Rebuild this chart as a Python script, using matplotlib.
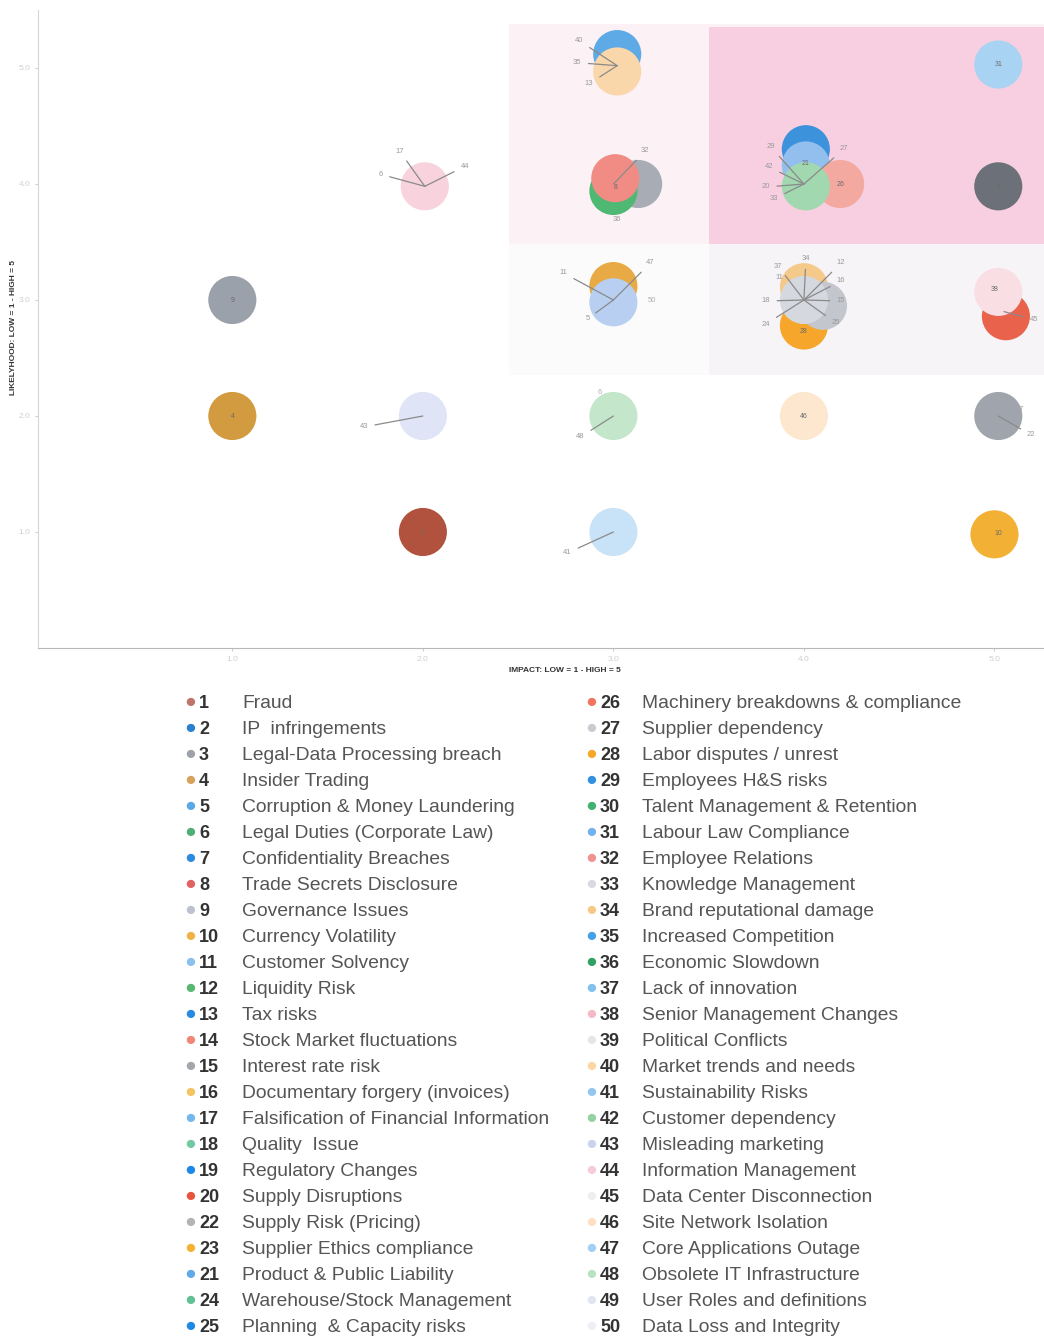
import matplotlib
matplotlib.use("Agg")
from matplotlib import pyplot as plt
from matplotlib.patches import Rectangle

plt.rcParams['font.family'] = ['Liberation Sans', 'DejaVu Sans']

# risk register
risk_ids = list(range(1, 51))
risk_names = [
    "Fraud", "IP  infringements", "Legal-Data Processing breach", "Insider Trading",
    "Corruption & Money Laundering", "Legal Duties (Corporate Law)", "Confidentiality Breaches",
    "Trade Secrets Disclosure", "Governance Issues", "Currency Volatility", "Customer Solvency",
    "Liquidity Risk", "Tax risks", "Stock Market fluctuations", "Interest rate risk",
    "Documentary forgery (invoices)", "Falsification of Financial Information", "Quality  Issue",
    "Regulatory Changes", "Supply Disruptions", "Product & Public Liability", "Supply Risk (Pricing)",
    "Supplier Ethics compliance", "Warehouse/Stock Management", "Planning  & Capacity risks",
    "Machinery breakdowns & compliance", "Supplier dependency", "Labor disputes / unrest",
    "Employees H&S risks", "Talent Management & Retention", "Labour Law Compliance",
    "Employee Relations", "Knowledge Management", "Brand reputational damage",
    "Increased Competition", "Economic Slowdown", "Lack of innovation",
    "Senior Management Changes", "Political Conflicts", "Market trends and needs",
    "Sustainability Risks", "Customer dependency", "Misleading marketing",
    "Information Management", "Data Center Disconnection", "Site Network Isolation",
    "Core Applications Outage", "Obsolete IT Infrastructure", "User Roles and definitions",
    "Data Loss and Integrity",
]
risk_colors = [
    "#c0736a", "#2a80cf", "#9ea3ab", "#d9a25c", "#5aa8e6", "#4fae78", "#2b8be0", "#e06262",
    "#bcc3cf", "#efb245", "#8cc0ee", "#58b671", "#2a8ae0", "#f08676", "#a3a6ab", "#f5c264",
    "#72b8ef", "#72c9a2", "#1e88e5", "#e8553f", "#62a9e8", "#b3b3b3", "#f5b132", "#62c192",
    "#1f87e4", "#f0745f", "#c9cbd2", "#f5a828", "#3190df", "#42b071", "#73b2ef", "#f09292",
    "#d9dae2", "#f8c985", "#42a1e7", "#31a163", "#82c1ef", "#f6b9c8", "#e6e6e8", "#fbd6a3",
    "#92c8ef", "#94d1a3", "#cad2ef", "#f7cbd9", "#eeeef0", "#fde0c2", "#a3cff5", "#bbe1c3",
    "#e1e5f0", "#eff0f6",
]
legend_col1 = list(range(1, 21)) + [22, 23, 21, 24, 25]
legend_col2 = list(range(26, 51))

# plotted circles (drawing order matters for overlaps)
pt_ids = [35, 40, 31,
          44, 15, 30, 32, 29, 21, 26, 42, 3,
          9, 23, 47, 34, 28, 27, 33, 20, 38,
          4, 43, 48, 46, 22,
          1, 41, 10]
pt_impact = [3.02, 3.02, 5.02,
             2.01, 3.13, 3.0, 3.01, 4.01, 4.01, 4.19, 4.01, 5.02,
             1.0, 3.0, 3.0, 4.0, 4.0, 4.1, 4.0, 5.06, 5.02,
             1.0, 2.0, 3.0, 4.0, 5.02,
             2.0, 3.0, 5.0]
pt_likelihood = [5.12, 4.97, 5.03,
                 3.98, 4.0, 3.94, 4.05, 4.3, 4.16, 4.0, 3.98, 3.98,
                 3.0, 3.12, 2.98, 3.11, 2.78, 2.95, 3.0, 2.86, 3.07,
                 2.0, 2.0, 2.0, 2.0, 2.0,
                 1.0, 1.0, 0.98]
pt_colors = ["#5eaae6", "#fad7ab", "#a9d3f3",
             "#f8d3de", "#a8acb4", "#4fb873", "#f18c84", "#3c93dc", "#92bfee", "#f3a9a0", "#a2d8b0", "#6c7179",
             "#9aa1ab", "#e7aa45", "#b8cff2", "#f4c98a", "#f5a62b", "#c3c6cd", "#d6d8df", "#e9634c", "#f9dee4",
             "#d39b40", "#dfe4f6", "#c4e6ca", "#fde7cf", "#a0a4ac",
             "#b1523f", "#c8e2f7", "#f2b134"]

# labels that point into the clusters: text, cluster centre, offset in pixels
ann_text = ["40", "35", "13", "17", "6", "44", "32", "29", "27", "42", "20", "33",
            "11", "47", "5", "34", "37", "12", "16", "18", "15", "24", "25",
            "45", "43", "48", "22", "41"]
ann_x = [3.02, 3.02, 3.02, 2.01, 2.01, 2.01, 3.0, 4.0, 4.0, 4.0, 4.0, 4.0,
         3.0, 3.0, 3.0, 4.0, 4.0, 4.0, 4.0, 4.0, 4.0, 4.0, 4.0,
         5.05, 2.0, 3.0, 5.02, 3.0]
ann_y = [5.02, 5.02, 5.02, 3.98, 3.98, 3.98, 4.0, 4.0, 4.0, 4.0, 4.0, 4.0,
         3.0, 3.0, 3.0, 3.0, 3.0, 3.0, 3.0, 3.0, 3.0, 3.0, 3.0,
         2.9, 2.0, 2.0, 2.0, 1.0]
ann_dx = [-38, -40, -28, -25, -44, 40, 32, -33, 40, -35, -38, -30,
          -50, 37, -26, 2, -26, 37, 37, -38, 37, -38, 32,
          30, -59, -33, 33, -46]
ann_dy = [25, 3, -18, 35, 12, 20, 33, 37, 35, 17, -3, -15,
          27, 37, -19, 41, 34, 37, 19, -1, -1, -24, -23,
          -8, -11, -21, -19, -21]

# numbers printed inside circles
inner_text = ["21", "26", "8", "28", "38", "46", "1", "10", "9", "4", "3", "31"]
inner_x = [4.01, 4.19, 3.01, 4.0, 5.0, 4.0, 2.0, 5.02, 1.0, 1.0, 5.02, 5.02]
inner_y = [4.18, 4.0, 3.97, 2.73, 3.09, 2.0, 1.0, 0.99, 3.0, 2.0, 3.98, 5.03]

fig = plt.figure(figsize=(10.44, 13.39), dpi=100)
ax = fig.add_axes([38 / 1044, 1 - 648 / 1339, 1 - 38 / 1044, 638 / 1339])
ax.set_xlim(-0.02, 5.26)
ax.set_ylim(0, 5.5)

# shaded zones
ax.add_patch(Rectangle((2.45, 3.48), 2.9, 1.9, color="#fcf2f6", zorder=0, lw=0))
ax.add_patch(Rectangle((3.5, 3.48), 1.8, 1.87, color="#f8cfe0", zorder=0, lw=0))
ax.add_patch(Rectangle((3.5, 2.35), 1.8, 1.13, color="#f7f4f7", zorder=0, lw=0))
ax.add_patch(Rectangle((2.45, 2.35), 1.05, 1.13, color="#fcfbfc", zorder=0, lw=0))

ax.scatter(pt_impact, pt_likelihood, s=1200, c=pt_colors, edgecolors="none", zorder=2)

for t, x, y, dx, dy in zip(ann_text, ann_x, ann_y, ann_dx, ann_dy):
    ax.annotate(t, xy=(x, y), xytext=(dx, dy), textcoords="offset pixels",
                fontsize=5.5, color="#9a9a9a", ha="center", va="center",
                arrowprops=dict(arrowstyle="-", color="#8a8a8a", lw=0.9, shrinkA=3, shrinkB=0),
                zorder=4)

for t, x, y in zip(inner_text, inner_x, inner_y):
    ax.text(x, y, t, fontsize=5, color="#6a6a6a", ha="center", va="center", zorder=5)

ax.text(3.02, 3.69, "36", fontsize=5.5, color="#9a9a9a", ha="center", va="center")
ax.text(3.2, 3.0, "50", fontsize=5.5, color="#b0b0b0", ha="center", va="center")
ax.text(3.87, 3.19, "11", fontsize=5.5, color="#9a9a9a", ha="center", va="center")
ax.text(2.93, 2.2, "6", fontsize=5.5, color="#b0b0b0", ha="center", va="center")
ax.text(5.14, 2.06, "7", fontsize=5.5, color="#9a9a9a", ha="center", va="center")

for side in ["top", "right"]:
    ax.spines[side].set_visible(False)
ax.spines["left"].set_color("#d6d6d6")
ax.spines["bottom"].set_color("#b8b8b8")
ax.spines["left"].set_linewidth(0.8)
ax.spines["bottom"].set_linewidth(0.8)
ax.set_xticks([1, 2, 3, 4, 5])
ax.set_xticklabels(["1.0", "2.0", "3.0", "4.0", "5.0"])
ax.set_yticks([1, 2, 3, 4, 5])
ax.set_yticklabels(["1.0", "2.0", "3.0", "4.0", "5.0"])
ax.tick_params(colors="#d0d0d0", labelsize=6, length=2, labelcolor="#cfcfcf")

fig.text(565 / 1044, 1 - 670 / 1339, "IMPACT: LOW = 1 - HIGH = 5", fontsize=6,
         fontweight="bold", color="#333333", ha="center", va="center")
fig.text(14 / 1044, 1 - 328 / 1339, "LIKELYHOOD: LOW = 1 - HIGH = 5", fontsize=6,
         fontweight="bold", color="#333333", ha="center", va="center", rotation=90)

# legend as two text columns
def draw_column(ids, dot_x, num_x, name_x):
    for i, rid in enumerate(ids):
        y = 1 - (704 + i * 26) / 1339
        fig.text(dot_x / 1044, y + 2 / 1339, "\u25CF", fontsize=14, color=risk_colors[rid - 1],
                 ha="center", va="center")
        fig.text(num_x / 1044, y, str(rid), fontsize=13, fontweight="bold",
                 color="#333333", ha="left", va="center")
        fig.text(name_x / 1044, y, risk_names[rid - 1], fontsize=13.9,
                 color="#555555", ha="left", va="center")

draw_column(legend_col1, 190, 199, 242)
draw_column(legend_col2, 591, 600, 642)

fig.savefig("out.png", dpi=100)
